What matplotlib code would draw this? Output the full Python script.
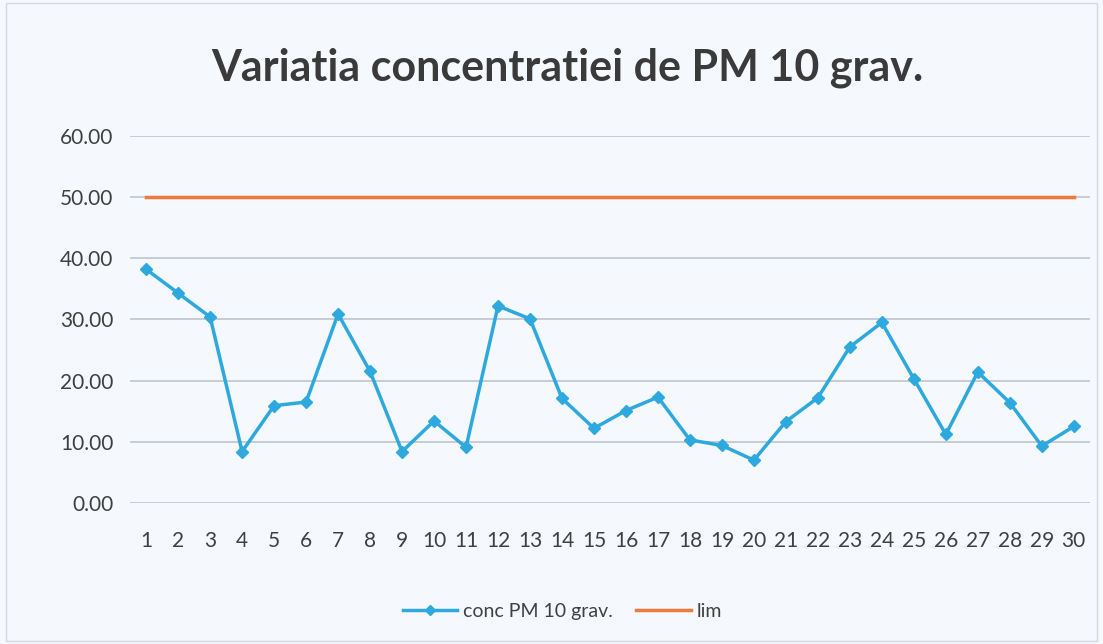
import matplotlib
matplotlib.use("Agg")
import matplotlib.pyplot as plt
from matplotlib.ticker import FormatStrFormatter

days = list(range(1, 31))
conc_pm10 = [38.2, 34.3, 30.4, 8.4, 15.9, 16.5, 30.9, 21.5, 8.4, 13.4,
             9.1, 32.2, 30.1, 17.1, 12.2, 15.1, 17.3, 10.3, 9.4, 7.0,
             13.3, 17.2, 25.5, 29.5, 20.3, 11.2, 21.4, 16.4, 9.3, 12.5]
lim = [50.0] * 30
yticks = [0, 10, 20, 30, 40, 50, 60]
title = "Variatia concentratiei de PM 10 grav."

plt.rcParams['font.family'] = ['Lato', 'DejaVu Sans']

bg = '#F5F8FD'
fig = plt.figure(figsize=(11.03, 6.44), dpi=100, facecolor=bg)
ax = fig.add_axes([0.118, 0.219, 0.870, 0.570], facecolor=bg)

ax.plot(days, conc_pm10, color='#2EA9DE', lw=2.5, marker='D', ms=6.5,
        label='conc PM 10 grav.', zorder=3)
ax.plot(days, lim, color='#F07A3C', lw=2.5, label='lim', zorder=3)

ax.set_xlim(0.5, 30.5)
ax.set_ylim(0, 60)
ax.set_yticks(yticks)
ax.yaxis.set_major_formatter(FormatStrFormatter('%.2f'))
ax.set_xticks(days)
ax.set_xticklabels([str(d) for d in days])
ax.grid(axis='y', color='#C4C8D2', lw=1.3)
ax.set_axisbelow(True)
for s in ax.spines.values():
    s.set_visible(False)
ax.tick_params(axis='both', length=0, colors='#404040', labelsize=15)
ax.tick_params(axis='x', pad=20)
ax.tick_params(axis='y', pad=12)

fig.text(0.514, 0.895, title, ha='center', va='center', fontsize=31,
         fontweight='bold', color='#3A3A3A')

fig.legend(loc='center', bbox_to_anchor=(0.51, 0.05), ncol=2, frameon=False,
           fontsize=14, handlelength=2.8, handletextpad=0.3, columnspacing=1.2,
           labelcolor='#404040', markerscale=0.8)

fig.add_artist(plt.Rectangle((0.005, 0.005), 0.99, 0.99, transform=fig.transFigure,
                             fill=False, edgecolor='#D5D8DE', lw=1))

fig.savefig('out.png', dpi=100, facecolor=bg)
